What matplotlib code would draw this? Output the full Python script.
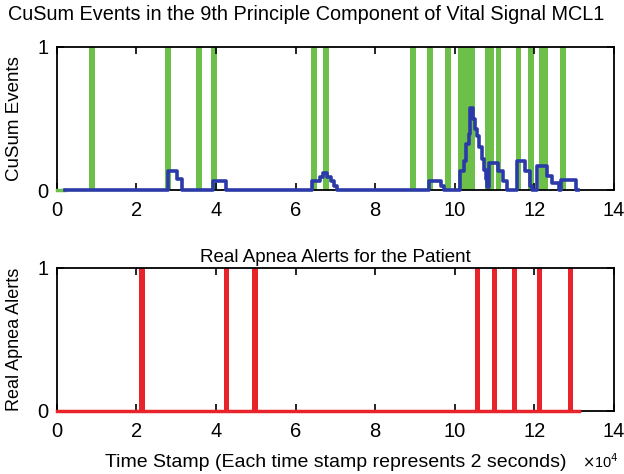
import matplotlib
matplotlib.use("Agg")
import matplotlib.pyplot as plt
import numpy as np

plt.rcParams['font.family'] = ['Liberation Sans', 'DejaVu Sans']

# ---------------- data (x in units of 1e4 time stamps) ----------------
# green CuSum event bands: centers and widths
green_x = [0.88, 2.79, 3.58, 3.96, 6.47, 6.77, 8.95, 9.37, 9.83,
           10.29, 10.87, 11.10, 11.60, 11.92, 12.23, 12.71]
green_w = [0.15, 0.15, 0.15, 0.15, 0.15, 0.15, 0.15, 0.15, 0.15,
           0.42, 0.24, 0.14, 0.15, 0.14, 0.21, 0.15]

# blue CuSum step curve (step 'post')
blue_x = [0.20, 2.79, 3.02, 3.15, 3.93, 4.25, 6.42, 6.62, 6.70, 6.80, 6.88,
          6.96, 7.04, 9.34, 9.66, 9.72, 10.12, 10.22, 10.29, 10.35, 10.39,
          10.45, 10.50, 10.56, 10.62, 10.68, 10.74, 10.79, 10.82, 10.85,
          11.08, 11.22, 11.32, 11.57, 11.77, 11.88, 11.95, 12.07, 12.32,
          12.45, 12.62, 12.68, 13.05, 13.10]
blue_y = [0.0, 0.13, 0.075, 0.0, 0.065, 0.0, 0.065, 0.09, 0.12, 0.09, 0.065,
          0.03, 0.0, 0.065, 0.03, 0.0, 0.13, 0.20, 0.32, 0.39, 0.57,
          0.50, 0.43, 0.38, 0.30, 0.22, 0.14, 0.08, 0.02, 0.19,
          0.13, 0.06, 0.0, 0.20, 0.13, 0.03, 0.0, 0.17, 0.10,
          0.05, 0.0, 0.07, 0.0, 0.0]

# red real apnea alerts
red_x = [2.14, 4.27, 4.98, 10.58, 10.99, 11.50, 12.12, 12.90]
red_end = 13.12

xticks = [0, 2, 4, 6, 8, 10, 12, 14]
yticks = [0, 1]

green = '#6cc04a'
blue = '#2b3aa8'
red = '#e8232a'

fig = plt.figure(figsize=(6.24, 4.74), dpi=100)
ax1 = fig.add_axes([0.091, 0.599, 0.893, 0.302])
ax2 = fig.add_axes([0.091, 0.133, 0.893, 0.302])

# top
ax1.bar(green_x, [1] * len(green_x), width=green_w, color=green, linewidth=0, zorder=1)
ax1.plot([0, blue_x[0]], [0, 0], color=green, lw=2.5, zorder=3, clip_on=False)
ax1.step(blue_x, blue_y, where='post', color=blue, lw=2.6, zorder=3, clip_on=False)
fig.text(8 / 624, 1 - 14 / 474,
         'CuSum Events in the 9th Principle Component of Vital Signal MCL1',
         fontsize=14.3, ha='left', va='center')
ax1.set_ylabel('CuSum Events', fontsize=13.5, labelpad=10)

# bottom
ax2.bar(red_x, [1] * len(red_x), width=0.13, color=red, linewidth=0, zorder=2)
ax2.plot([0, red_end], [0, 0], color=red, lw=2.5, zorder=3, clip_on=False)
ax2.set_title('Real Apnea Alerts for the Patient', fontsize=13.5, pad=4)
ax2.set_ylabel('Real Apnea Alerts', fontsize=13, labelpad=10)
ax2.set_xlabel('Time Stamp (Each time stamp represents 2 seconds)', fontsize=14,
               labelpad=9)

for ax in (ax1, ax2):
    ax.set_xlim(0, 14)
    ax.set_ylim(0, 1)
    ax.set_xticks(xticks)
    ax.set_yticks(yticks)
    ax.tick_params(direction='in', top=True, right=True, length=5, width=1.2,
                   labelsize=14.5, pad=8)
    ax.tick_params(axis='y', pad=6)
    for s in ax.spines.values():
        s.set_linewidth(1.3)

fig.text(0.932, 0.006, r'$\times$10$^4$', fontsize=10.5, ha='left', va='bottom')

fig.savefig('out.png', dpi=100, facecolor='white')
